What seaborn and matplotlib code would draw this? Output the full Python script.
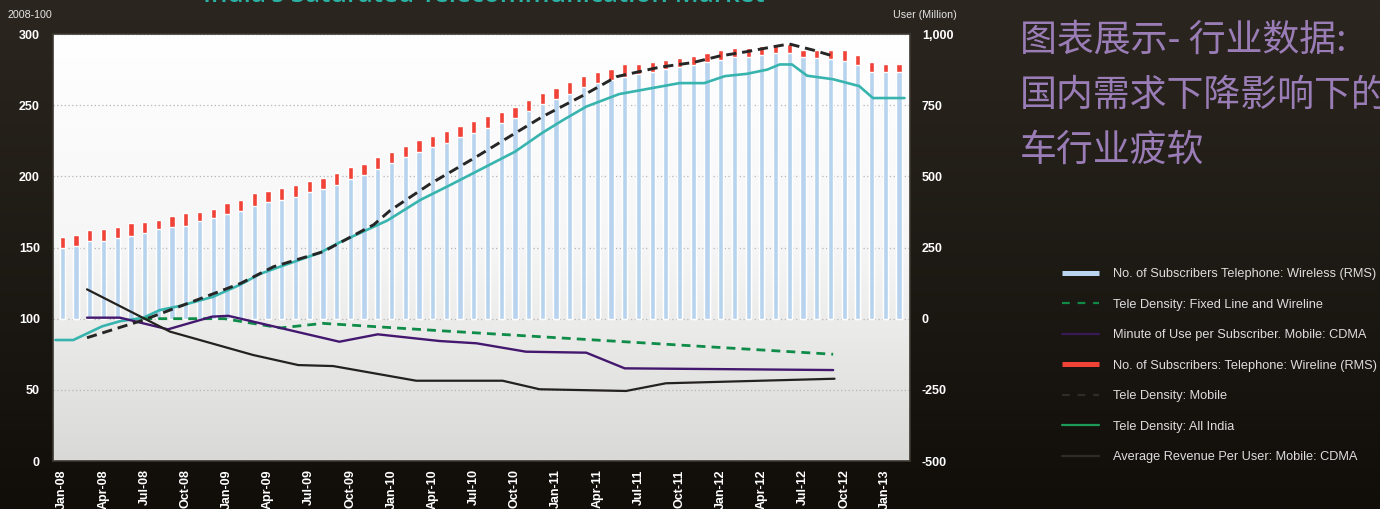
import numpy as np
import pandas as pd
import seaborn as sns
import matplotlib.pyplot as plt
from matplotlib.lines import Line2D
from matplotlib.ticker import StrMethodFormatter
from matplotlib.colors import LinearSegmentedColormap

# x tick labels (every third month, Jan-08 .. Jan-13)
tick_labels = ['Jan-08', 'Apr-08', 'Jul-08', 'Oct-08', 'Jan-09', 'Apr-09', 'Jul-09',
               'Oct-09', 'Jan-10', 'Apr-10', 'Jul-10', 'Oct-10', 'Jan-11', 'Apr-11',
               'Jul-11', 'Oct-11', 'Jan-12', 'Apr-12', 'Jul-12', 'Oct-12', 'Jan-13']

# subscribers, million (right axis), monthly Jan-08 .. Feb-13
wireless = [249, 255, 273, 273, 283, 291, 301, 315, 322, 326, 343, 354, 368, 378, 396, 410,
            417, 428, 445, 456, 470, 491, 505, 526, 547, 568, 586, 603, 617, 638, 652, 670,
            687, 705, 730, 754, 772, 789, 814, 828, 838, 849, 860, 867, 877, 884, 891, 902,
            909, 919, 919, 926, 933, 933, 919, 916, 912, 905, 891, 867, 867, 867]
total = [287, 294, 312, 315, 322, 336, 340, 347, 361, 371, 375, 385, 406, 417, 441, 449,
         459, 470, 484, 494, 512, 533, 543, 568, 586, 607, 628, 642, 659, 677, 694, 712,
         726, 744, 768, 793, 810, 831, 853, 867, 877, 895, 895, 902, 909, 916, 923, 933,
         944, 951, 951, 958, 965, 965, 944, 944, 944, 944, 926, 902, 895, 895]

# index series, 2008 = 100 (left axis); x = months since Jan-08
teal_x = [-0.5, 0.8, 2.9, 4.2, 5.9, 7.1, 8.6, 11.0, 13.0, 14.4, 15.9, 17.3, 18.8, 20.2, 21.9,
          23.7, 26.1, 28.3, 30.4, 33.0, 35.0, 36.5, 38.2, 40.6, 45.0, 46.8, 48.3, 49.9, 51.4,
          52.3, 53.2, 54.3, 56.2, 58.1, 59.1, 61.4]
teal_y = [85, 85, 94.6, 98.2, 100.6, 106, 109, 115.4, 124, 131.4, 136.6, 141.3, 146.4, 153.5,
          161, 169, 183.4, 194, 204.4, 217.3, 230.6, 239.5, 249, 257.8, 265.5, 265.5, 270.4,
          272, 275, 278.6, 278.6, 270.7, 268.2, 263.4, 255, 255]

mobile_x = [1.8, 5.9, 9.5, 13.0, 15.4, 19.0, 22.7, 23.9, 26.8, 30.2, 32.6, 35.0, 38.0, 40.4,
            43.5, 46.0, 47.9, 49.9, 51.8, 53.0, 54.7, 56.2]
mobile_y = [86.6, 99, 112, 124.8, 136.5, 147, 166, 176, 194.6, 213.8, 227.9, 241.9, 257, 270,
            276.6, 280, 284.5, 287.6, 291, 293, 288.8, 284.5]

fixed_x = [5.9, 11.8, 15.9, 19.0, 27.6, 56.2]
fixed_y = [100, 100, 93.5, 96.7, 91.5, 75]

mou_x = [1.8, 4.2, 7.7, 10.9, 12.1, 20.2, 23.0, 27.5, 30.2, 33.8, 38.2, 41.0, 56.2]
mou_y = [100.7, 100.7, 92.5, 101.4, 102, 83.8, 89, 84.3, 82.7, 76.8, 76.1, 65.1, 63.9]

arpu_x = [1.8, 7.85, 13.9, 17.2, 19.75, 25.8, 32.1, 34.8, 41.1, 44.0, 56.3]
arpu_y = [120.6, 90.9, 74.5, 67.4, 66.7, 56.4, 56.4, 50.4, 49.2, 54.6, 57.8]

legend_labels = ['No. of Subscribers Telephone: Wireless (RMS)',
                 'Tele Density: Fixed Line and Wireline',
                 'Minute of Use per Subscriber. Mobile: CDMA',
                 'No. of Subscribers: Telephone: Wireline (RMS)',
                 'Tele Density: Mobile',
                 'Tele Density: All India',
                 'Average Revenue Per User: Mobile: CDMA']

sns.set_theme(style='white')
plt.rcParams['font.family'] = ['Liberation Sans', 'DejaVu Sans']
plt.rcParams['axes.unicode_minus'] = False

fig = plt.figure(figsize=(13.8, 5.09), dpi=100)

# dark background
bg = fig.add_axes([0, 0, 1, 1], zorder=-10)
bg.imshow(np.linspace(0, 1, 256).reshape(-1, 1), aspect='auto', extent=[0, 1, 0, 1],
          cmap=LinearSegmentedColormap.from_list('bg', ['#2b261f', '#110e0a']))
bg.axis('off')

ax = fig.add_axes([0.0384, 0.0943, 0.621, 0.8389])
ax.imshow(np.linspace(0, 1, 256).reshape(-1, 1), aspect='auto', extent=[0, 1, 0, 1],
          transform=ax.transAxes, zorder=0,
          cmap=LinearSegmentedColormap.from_list('pa', ['#ffffff', '#f6f6f6', '#d9d9d7']))

df = pd.DataFrame({'month': range(len(wireless)), 'wireless': wireless, 'total': total})
sns.barplot(data=df, x='month', y='total', color='#f04236', saturation=1, width=0.38,
            native_scale=True, errorbar=None, ax=ax, zorder=2)
sns.barplot(data=df, x='month', y='wireless', color='#b8d3ee', saturation=1, width=0.38,
            native_scale=True, errorbar=None, ax=ax, zorder=3)

axl = ax.twinx()
sns.lineplot(x=teal_x, y=teal_y, ax=axl, color='#38b4ae', linewidth=1.9, zorder=4)
sns.lineplot(x=fixed_x, y=fixed_y, ax=axl, color='#0e8c48', linewidth=2.0,
             linestyle=(0, (3.2, 2.2)), zorder=4)
sns.lineplot(x=mou_x, y=mou_y, ax=axl, color='#43186e', linewidth=1.7, zorder=5)
sns.lineplot(x=arpu_x, y=arpu_y, ax=axl, color='#24221f', linewidth=1.6, zorder=5)
sns.lineplot(x=mobile_x, y=mobile_y, ax=axl, color='#262626', linewidth=2.1,
             linestyle=(0, (3.5, 2.0)), zorder=6)

# right axis: subscribers
ax.set_xlim(-0.68, 61.8)
ax.set_ylim(-500, 1000)
ax.set_yticks(range(-500, 1001, 250))
ax.yaxis.set_major_formatter(StrMethodFormatter('{x:,.0f}'))
ax.yaxis.tick_right()
ax.yaxis.set_label_position('right')
ax.set_axisbelow(True)
ax.yaxis.grid(True, linestyle=(0, (1, 2)), color='#b5b5b5', linewidth=0.9)
ax.xaxis.grid(False)
ax.set_xticks(range(0, 61, 3), tick_labels, rotation=90, va='top', ha='center')
ax.set_xlabel('')
ax.set_ylabel('')
ax.tick_params(axis='x', length=0, pad=6, labelsize=9, labelcolor='white')
ax.tick_params(axis='y', length=0, pad=8.6, labelsize=9, labelcolor='white')
for lab in ax.get_xticklabels() + ax.get_yticklabels():
    lab.set_fontweight('bold')
for s in ax.spines.values():
    s.set_color('#3c3730')
    s.set_linewidth(1.2)

# left axis: index
axl.set_ylim(0, 300)
axl.set_yticks(range(0, 301, 50))
axl.yaxis.tick_left()
axl.set_ylabel('')
axl.tick_params(axis='y', length=0, pad=9.4, labelsize=9, labelcolor='white')
for lab in axl.get_yticklabels():
    lab.set_fontweight('bold')
for s in axl.spines.values():
    s.set_visible(False)

fig.text(30 / 1380, 1 - 15 / 509, '2008-100', ha='center', va='center', color='#e6e6e6', fontsize=7.7)
fig.text(957 / 1380, 1 - 15 / 509, 'User (Million)', ha='right', va='center', color='#e6e6e6', fontsize=7.7)

fig.text(484 / 1380, 1 - 2 / 509, "India's Saturated Telecommunication Market", ha='center',
         va='baseline', color='#2ab3a5', fontsize=18.7, family=['Open Sans', 'DejaVu Sans'],
         fontweight='semibold')

cjk = ['Noto Sans CJK SC', 'DejaVu Sans']
for line, yc in zip(['图表展示- 行业数据:', '国内需求下降影响下的', '车行业疲软'], [40, 95, 150]):
    fig.text(1020 / 1380, 1 - yc / 509, line, ha='left', va='center', color='#9a7db6',
             fontsize=26.6, family=cjk)

handles = [
    Line2D([], [], color='#b8d4ee', lw=3.6, solid_capstyle='butt'),
    Line2D([], [], color='#0f8a47', lw=1.6, linestyle=(0, (3.5, 3.5))),
    Line2D([], [], color='#3a1957', lw=1.6),
    Line2D([], [], color='#f04236', lw=3.6, solid_capstyle='butt'),
    Line2D([], [], color='#2e2c28', lw=1.6, linestyle=(0, (3.5, 3.5))),
    Line2D([], [], color='#1d9a58', lw=1.6),
    Line2D([], [], color='#2e2c28', lw=1.6),
]
leg = fig.legend(handles, legend_labels, loc='upper left', bbox_to_anchor=(1062 / 1380, 1 - 268 / 509),
                 frameon=False, fontsize=9.2, labelspacing=1.45, handlelength=2.88,
                 handletextpad=1.09, borderpad=0, borderaxespad=0)
for t in leg.get_texts():
    t.set_color('#dedede')

fig.savefig('out.png', dpi=100)
